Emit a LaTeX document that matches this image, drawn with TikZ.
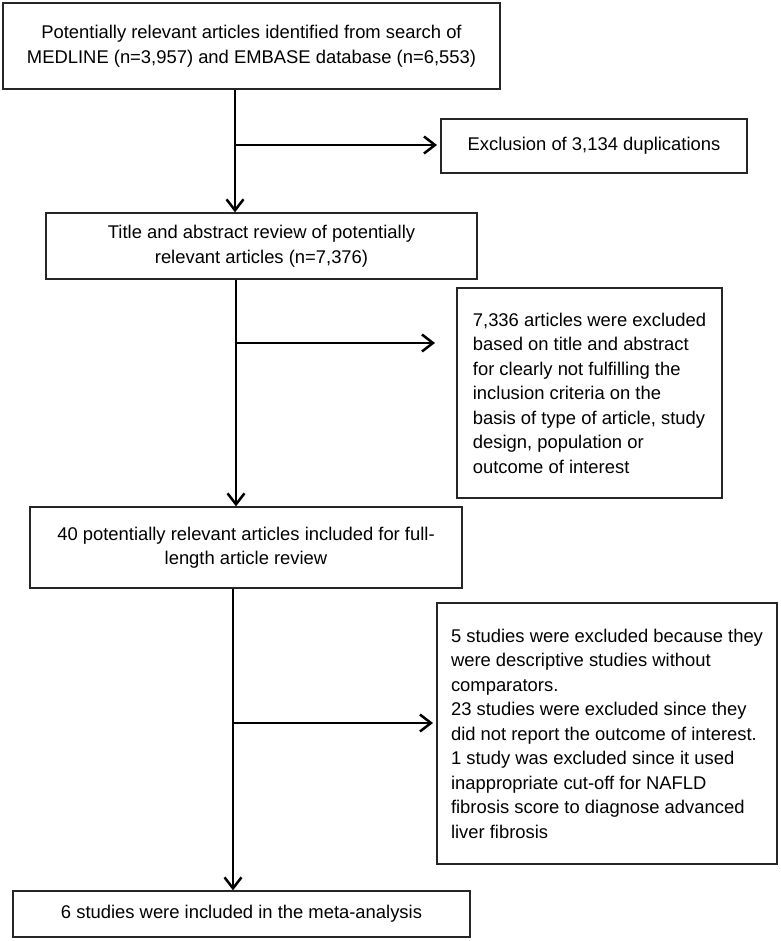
\documentclass[tikz,border=0pt]{standalone}
\usepackage{fontspec}
\setmainfont{Liberation Sans}
\usetikzlibrary{arrows.meta}
\begin{document}
\begin{tikzpicture}[x=1pt,y=-1pt,
  txt/.style={font=\fontsize{18.4}{24.5}\selectfont},
  box/.style={txt, draw=black!85, line width=1.3pt, inner sep=0pt, align=center},
  exbox/.style={txt, draw=black!85, line width=1.3pt, inner sep=0pt, align=left},
  flow/.style={line width=2.5pt, -{Straight Barb[length=11pt,width=17pt]}}]
\useasboundingbox (0,0) rectangle (780,941);
\fill[white] (0,0) rectangle (780,941);

\node[box, minimum width=497pt, minimum height=86pt] (b1) at (251.5,46)
  {Potentially relevant articles identified from search of\\MEDLINE (n=3,957) and EMBASE database (n=6,553)};
\node[box, minimum width=431pt, minimum height=66pt] (b2) at (261.5,246)
  {Title and abstract review of potentially\\relevant articles (n=7,376)};
\node[box, minimum width=306pt, minimum height=54pt] (e1) at (594,146)
  {Exclusion of 3,134 duplications};
\node[exbox, minimum width=265pt, minimum height=210pt] (e2) at (589.5,393)
  {7,336 articles were excluded\\
   based on title and abstract\\
   for clearly not fulfilling the\\
   inclusion criteria on the\\
   basis of type of article, study\\
   design, population or\\
   outcome of interest};
\node[box, minimum width=432pt, minimum height=81pt] (b3) at (246,547.5)
  {40 potentially relevant articles included for full-\\length article review};
\node[exbox, minimum width=340pt, minimum height=261pt] (e3) at (607,733.5)
  {5 studies were excluded because they\\
   were descriptive studies without\\
   comparators.\\
   23 studies were excluded since they\\
   did not report the outcome of interest.\\
   1 study was excluded since it used\\
   inappropriate cut-off for NAFLD\\
   fibrosis score to diagnose advanced\\
   liver fibrosis};
\node[box, minimum width=457pt, minimum height=46pt] (b4) at (241.5,914)
  {6 studies were included in the meta-analysis};

\coordinate (v1) at (235,0);
\coordinate (v2) at (236,0);
\coordinate (v3) at (233,0);
\coordinate (j1) at (235,145);
\coordinate (t1) at (437,145);
\coordinate (j2) at (236,343);
\coordinate (t2) at (435,343);
\coordinate (j3) at (233,723);
\coordinate (t3) at (433,723);

\draw[flow] (b1.south -| v1) -- (b2.north -| v1);
\draw[flow] (j1) -- (t1);
\draw[flow] (b2.south -| v2) -- (b3.north -| v2);
\draw[flow] (j2) -- (t2);
\draw[flow] (b3.south -| v3) -- (b4.north -| v3);
\draw[flow] (j3) -- (t3);
\end{tikzpicture}
\end{document}
